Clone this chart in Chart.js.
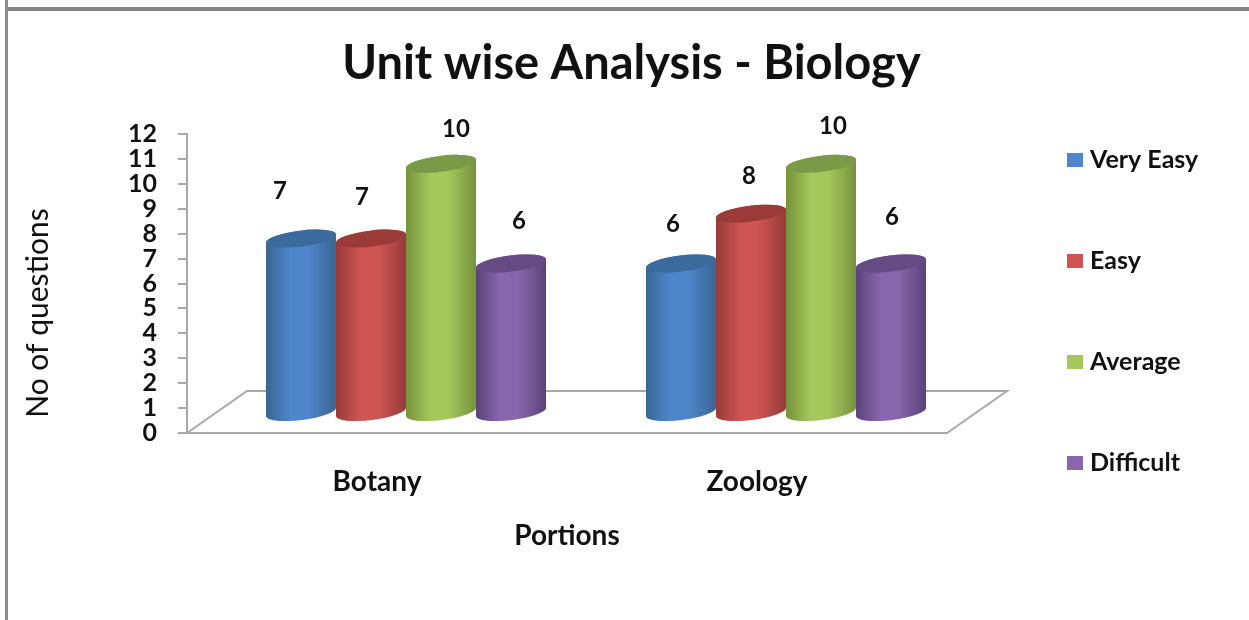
<!DOCTYPE html>
<html>
<head>
<meta charset="utf-8">
<title>Unit wise Analysis - Biology</title>
<script src="https://cdn.jsdelivr.net/npm/chart.js@4"></script>
<style>
    html, body { margin: 0; padding: 0; background: #fff; overflow: hidden; }
    #frame-top { position: absolute; left: 5px; right: 0; top: 7px; height: 4px; background: #858585; }
    #frame-left { position: absolute; left: 5px; top: 0; bottom: 0; width: 3px; background: #8c8c8c; }
    canvas { position: absolute; left: 0; top: 0; }
</style>
</head>
<body>
<canvas id="grafico" width="1249" height="620"></canvas>
<div id="frame-top"></div>
<div id="frame-left"></div>
<script>
// Dados
const categories = ['Botany', 'Zoology'];
const seriesNames = ['Very Easy', 'Easy', 'Average', 'Difficult'];
const veryEasy = [7, 6];
const easy = [7, 8];
const average = [10, 10];
const difficult = [6, 6];

const chartTitle = 'Unit wise Analysis - Biology';
const xTitle = 'Portions';
const yTitle = 'No of questions';

// Cores: borda do cilindro, centro, tampa
const edgeColors = ['#3a6593', '#953b39', '#76923c', '#5a4378'];
const midColors = ['#4f86cb', '#cf5553', '#a5c85c', '#8966ad'];
const capColors = ['#3b6a9c', '#9a3b39', '#7b9a47', '#664a84'];

const axisGray = '#a8a8a8';
const fontName = 'Lato, "Open Sans", sans-serif';

// Deslocamento da perspectiva (piso e barras)
const floorDepth = { x: 60, y: -42 };
const barShift = { x: 29, y: -20 };
const capRadiusY = 8;
const capTilt = -7 * Math.PI / 180;

// Ajuste dos rotulos de valor em relacao ao topo de cada barra
const labelNudges = [
    [[-21, -47], [-8, -39]],
    [[-9, -41], [-2, -37]],
    [[15, -35], [12, -38]],
    [[8, -42], [1, -46]]
];

// Barra desenhada como cilindro, usando x/y/base calculados pela escala
class CylinderBar extends Chart.BarElement {
    draw(ctx) {
        const { x, y, base, width } = this.getProps(['x', 'y', 'base', 'width'], true);
        const i = midColors.indexOf(this.options.backgroundColor);
        const cx = x + barShift.x;
        const top = y + barShift.y;
        const bottom = base + barShift.y;
        const rx = width / 2 / Math.cos(capTilt);
        const rise = width / 2 * Math.tan(capTilt);
        const left = cx - width / 2;
        const right = cx + width / 2;

        const grad = ctx.createLinearGradient(left, 0, right, 0);
        grad.addColorStop(0, edgeColors[i]);
        grad.addColorStop(0.35, midColors[i]);
        grad.addColorStop(0.6, midColors[i]);
        grad.addColorStop(1, edgeColors[i]);

        ctx.save();
        ctx.fillStyle = grad;
        ctx.beginPath();
        ctx.moveTo(left, top - rise);
        ctx.lineTo(left, bottom - rise);
        ctx.ellipse(cx, bottom, rx, capRadiusY, capTilt, Math.PI, 0, true);
        ctx.lineTo(right, top + rise);
        ctx.ellipse(cx, top, rx, capRadiusY, capTilt, 0, Math.PI, true);
        ctx.closePath();
        ctx.fill();

        ctx.fillStyle = capColors[i];
        ctx.beginPath();
        ctx.ellipse(cx, top, rx, capRadiusY, capTilt, 0, Math.PI * 2);
        ctx.fill();
        ctx.restore();
    }
}
CylinderBar.id = 'cylinderBar';
CylinderBar.defaults = Chart.BarElement.defaults;

class CylinderController extends Chart.BarController {}
CylinderController.id = 'cylinder';
CylinderController.defaults = Object.assign({}, Chart.BarController.defaults, { dataElementType: 'cylinderBar' });
CylinderController.overrides = Chart.BarController.overrides;

Chart.register(CylinderBar, CylinderController);

// Piso em perspectiva (a linha da frente e a borda do eixo x)
const floorPlugin = {
    id: 'floorPlugin',
    beforeDatasetsDraw(chart) {
        const { ctx, chartArea } = chart;
        ctx.save();
        ctx.strokeStyle = axisGray;
        ctx.lineWidth = 2;
        ctx.beginPath();
        ctx.moveTo(chartArea.left, chartArea.bottom);
        ctx.lineTo(chartArea.left + floorDepth.x, chartArea.bottom + floorDepth.y);
        ctx.lineTo(chartArea.right + floorDepth.x, chartArea.bottom + floorDepth.y);
        ctx.lineTo(chartArea.right, chartArea.bottom);
        ctx.stroke();
        ctx.restore();
    }
};

// Rotulos de valor, titulo do eixo y e legenda
const textPlugin = {
    id: 'textPlugin',
    afterDraw(chart) {
        const { ctx } = chart;
        ctx.save();
        ctx.fillStyle = '#111';
        ctx.textAlign = 'center';
        ctx.textBaseline = 'middle';
        ctx.font = 'bold 24px ' + fontName;

        chart.data.datasets.forEach((ds, i) => {
            chart.getDatasetMeta(i).data.forEach((bar, j) => {
                const nudge = labelNudges[i][j];
                ctx.fillText(ds.data[j], bar.x + barShift.x + nudge[0], bar.y + barShift.y + nudge[1]);
            });
        });

        ctx.save();
        ctx.translate(38, 313);
        ctx.rotate(-Math.PI / 2);
        ctx.font = '30px ' + fontName;
        ctx.fillText(yTitle, 0, 0);
        ctx.restore();

        ctx.textAlign = 'left';
        ctx.font = 'bold 25px ' + fontName;
        chart.data.datasets.forEach((ds, i) => {
            const rowY = 160 + i * 101;
            ctx.fillStyle = midColors[i];
            ctx.fillRect(1067, rowY - 7, 16, 14);
            ctx.fillStyle = '#111';
            ctx.fillText(ds.label, 1090, rowY);
        });
        ctx.restore();
    }
};

new Chart(document.getElementById('grafico'), {
    type: 'cylinder',
    data: {
        labels: categories,
        datasets: [veryEasy, easy, average, difficult].map((valores, i) => ({
            label: seriesNames[i],
            data: valores,
            backgroundColor: midColors[i],
            categoryPercentage: 0.737,
            barPercentage: 1,
            clip: false
        }))
    },
    options: {
        responsive: false,
        animation: false,
        layout: { padding: { left: 14 } },
        plugins: {
            legend: { display: false },
            tooltip: { enabled: false },
            title: {
                display: true,
                text: chartTitle,
                color: '#111',
                font: { family: fontName, size: 47, weight: 'bold' },
                padding: { top: 36, bottom: 41.6 }
            }
        },
        scales: {
            x: {
                grid: { display: false },
                border: { color: axisGray, width: 2 },
                ticks: { color: '#111', padding: 24, font: { family: fontName, size: 28, weight: 'bold' } },
                title: {
                    display: true,
                    text: xTitle,
                    color: '#111',
                    font: { family: fontName, size: 28, weight: 'bold' },
                    padding: { bottom: 67 }
                },
                afterFit(scale) { scale.height = 187; }
            },
            y: {
                min: 0,
                max: 12,
                border: { color: axisGray, width: 2 },
                grid: { drawOnChartArea: false, color: axisGray, lineWidth: 2, tickLength: 9 },
                ticks: {
                    stepSize: 1,
                    autoSkip: false,
                    padding: 21,
                    color: '#111',
                    font: { family: fontName, size: 25, weight: 'bold' }
                },
                afterFit(scale) { scale.width = 173; }
            },
            // Espaco reservado para a legenda a direita
            gap: {
                type: 'linear',
                position: 'right',
                border: { display: false },
                grid: { display: false },
                ticks: { display: false },
                afterFit(scale) { scale.width = 302; }
            }
        }
    },
    plugins: [floorPlugin, textPlugin]
});
</script>
</body>
</html>
